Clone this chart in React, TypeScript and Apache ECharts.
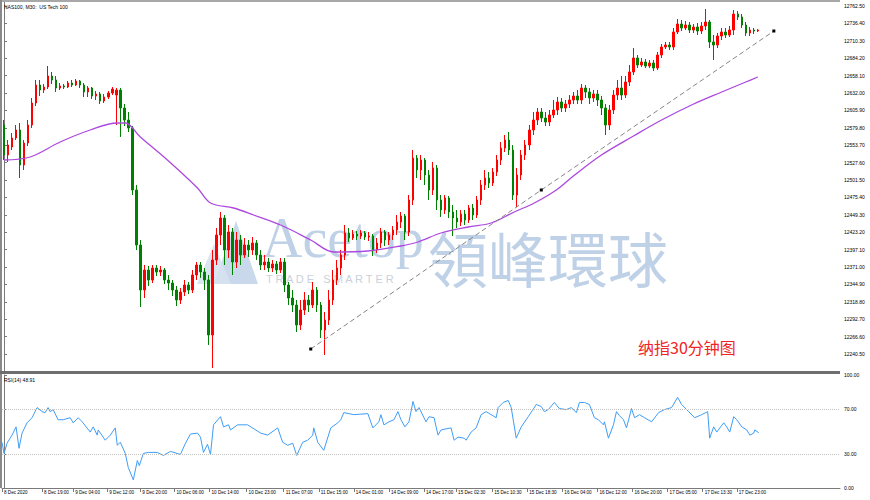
import React, { useEffect, useRef } from "react";
import * as echarts from "echarts";

// ---- Candles (one candle per slot) ----
const candleOpen = [
  12584, 12539, 12551, 12564.5, 12576.5, 12524, 12557, 12584, 12617, 12644,
  12636.5, 12641, 12657.5, 12651.5, 12639.5, 12642.5, 12641, 12647, 12644, 12650,
  12644, 12633.5, 12639.5, 12627.5, 12630.5, 12620, 12626, 12632, 12629, 12636.5,
  12609.5, 12591.5, 12579.5, 12486.5, 12404, 12336.5, 12366.5, 12351.5, 12369.5, 12363.5,
  12366.5, 12351.5, 12347, 12336.5, 12321.5, 12333.5, 12344, 12336.5, 12359, 12374,
  12363.5, 12351.5, 12269, 12381.5, 12419, 12444.5, 12396.5, 12423.5, 12378.5, 12411.5,
  12389, 12404, 12396.5, 12407, 12389, 12374, 12378.5, 12369.5, 12375.5, 12366.5,
  12378.5, 12344, 12324.5, 12314, 12284, 12306.5, 12321.5, 12314, 12336.5, 12314,
  12276.5, 12291.5, 12321.5, 12351.5, 12369.5, 12389, 12422, 12414.5, 12420.5, 12417.5,
  12422, 12416, 12417.5, 12396.5, 12407, 12423.5, 12411.5, 12419, 12426.5, 12438.5,
  12447.5, 12423.5, 12471.5, 12534.5, 12516.5, 12531.5, 12509, 12486.5, 12519.5, 12471.5,
  12456.5, 12474.5, 12453.5, 12444.5, 12438.5, 12450.5, 12441.5, 12459.5, 12449, 12471.5,
  12494, 12504.5, 12497, 12513.5, 12531.5, 12549.5, 12561.5, 12546.5, 12479, 12509,
  12539, 12554, 12576.5, 12591.5, 12603.5, 12594.5, 12588.5, 12599, 12606.5, 12618.5,
  12609.5, 12615.5, 12621.5, 12627.5, 12621.5, 12639.5, 12633.5, 12624.5, 12630.5, 12621.5,
  12609.5, 12584, 12606.5, 12629, 12639.5, 12629, 12648.5, 12663.5, 12684.5, 12674,
  12678.5, 12672.5, 12677, 12669.5, 12689, 12701, 12704, 12701, 12723.5, 12735.5,
  12729.5, 12734, 12726.5, 12731, 12725, 12732.5, 12738.5, 12708.5, 12704, 12717.5,
  12723.5, 12719, 12726.5, 12750.5, 12746, 12734, 12722, 12726.5, 12725,
];
const candleClose = [
  12539, 12554, 12564.5, 12576.5, 12524, 12557, 12584, 12617, 12644, 12636.5,
  12641, 12657.5, 12651.5, 12639.5, 12642.5, 12641, 12647, 12644, 12650, 12644,
  12633.5, 12639.5, 12627.5, 12630.5, 12620, 12626, 12632, 12638, 12636.5, 12609.5,
  12591.5, 12579.5, 12486.5, 12404, 12336.5, 12366.5, 12351.5, 12369.5, 12363.5, 12366.5,
  12351.5, 12347, 12336.5, 12321.5, 12333.5, 12344, 12336.5, 12359, 12374, 12363.5,
  12351.5, 12269, 12381.5, 12419, 12444.5, 12396.5, 12423.5, 12378.5, 12411.5, 12389,
  12404, 12396.5, 12407, 12389, 12374, 12378.5, 12369.5, 12375.5, 12366.5, 12378.5,
  12344, 12324.5, 12314, 12284, 12306.5, 12321.5, 12314, 12336.5, 12314, 12276.5,
  12291.5, 12321.5, 12351.5, 12369.5, 12389, 12422, 12414.5, 12420.5, 12417.5, 12422,
  12416, 12417.5, 12396.5, 12407, 12423.5, 12411.5, 12419, 12426.5, 12438.5, 12447.5,
  12423.5, 12471.5, 12534.5, 12516.5, 12531.5, 12509, 12486.5, 12519.5, 12471.5, 12456.5,
  12474.5, 12453.5, 12444.5, 12438.5, 12450.5, 12441.5, 12459.5, 12449, 12471.5, 12494,
  12504.5, 12497, 12513.5, 12531.5, 12549.5, 12561.5, 12546.5, 12479, 12509, 12539,
  12554, 12576.5, 12591.5, 12603.5, 12594.5, 12588.5, 12599, 12606.5, 12618.5, 12609.5,
  12615.5, 12621.5, 12627.5, 12621.5, 12639.5, 12633.5, 12624.5, 12630.5, 12621.5, 12609.5,
  12584, 12606.5, 12629, 12639.5, 12629, 12648.5, 12663.5, 12684.5, 12674, 12678.5,
  12672.5, 12677, 12669.5, 12689, 12701, 12704, 12701, 12723.5, 12735.5, 12729.5,
  12734, 12726.5, 12731, 12725, 12732.5, 12738.5, 12708.5, 12704, 12717.5, 12723.5,
  12719, 12726.5, 12750.5, 12746, 12734, 12722, 12726.5, 12725, 12726.5,
];
const candleLow = [
  12531.5, 12528.5, 12546.5, 12561.5, 12504.5, 12516.5, 12552.5, 12579.5, 12612.5, 12627.5,
  12632, 12638, 12645.5, 12633.5, 12636.5, 12638, 12639.5, 12641, 12642.5, 12639.5,
  12626, 12626, 12623, 12621.5, 12615.5, 12617, 12623, 12629, 12584, 12566,
  12582.5, 12573.5, 12479, 12396.5, 12311, 12324.5, 12342.5, 12347, 12357.5, 12357.5,
  12345.5, 12336.5, 12327.5, 12312.5, 12315.5, 12327.5, 12330.5, 12332, 12351.5, 12354.5,
  12336.5, 12254, 12219.5, 12374, 12404, 12374, 12384.5, 12359, 12369.5, 12374,
  12384.5, 12386, 12389, 12381.5, 12366.5, 12366.5, 12363.5, 12363.5, 12360.5, 12362,
  12333.5, 12314, 12303.5, 12273.5, 12276.5, 12299, 12303.5, 12309.5, 12303.5, 12264.5,
  12239, 12284, 12314, 12344, 12359, 12381.5, 12408.5, 12411.5, 12411.5, 12413,
  12411.5, 12410, 12387.5, 12392, 12399.5, 12402.5, 12404, 12411.5, 12419, 12429.5,
  12411.5, 12417.5, 12464, 12504.5, 12501.5, 12494, 12471.5, 12479, 12456.5, 12446,
  12450.5, 12444.5, 12417.5, 12429.5, 12432.5, 12434, 12437, 12441.5, 12444.5, 12464,
  12486.5, 12489.5, 12492.5, 12507.5, 12524, 12543.5, 12539, 12471.5, 12461, 12501.5,
  12531.5, 12546.5, 12569, 12584, 12588.5, 12582.5, 12582.5, 12594.5, 12599, 12603.5,
  12603.5, 12609.5, 12615.5, 12615.5, 12615.5, 12624.5, 12615.5, 12618.5, 12612.5, 12599,
  12569, 12576.5, 12600.5, 12621.5, 12621.5, 12624.5, 12642.5, 12659, 12669.5, 12671,
  12669.5, 12669.5, 12665, 12666.5, 12684.5, 12698, 12696.5, 12696.5, 12720.5, 12725,
  12726.5, 12722, 12722, 12719, 12720.5, 12726.5, 12699.5, 12681.5, 12699.5, 12711.5,
  12714.5, 12716, 12719, 12741.5, 12729.5, 12717.5, 12717.5, 12720.5, 12723.5,
];
const candleHigh = [
  12591.5, 12561.5, 12572, 12584, 12587, 12561.5, 12591.5, 12624.5, 12651.5, 12651.5,
  12645.5, 12672.5, 12663.5, 12657.5, 12647, 12645.5, 12650, 12651.5, 12653, 12651.5,
  12647, 12642.5, 12641, 12635, 12633.5, 12630.5, 12635, 12641, 12639.5, 12639.5,
  12615.5, 12603.5, 12582.5, 12494, 12411.5, 12374, 12372.5, 12374, 12374, 12372.5,
  12369.5, 12359, 12351.5, 12342.5, 12339.5, 12351.5, 12348.5, 12366.5, 12378.5, 12378.5,
  12369.5, 12359, 12396.5, 12429.5, 12453.5, 12449, 12434, 12429.5, 12423.5, 12419,
  12414.5, 12411.5, 12416, 12411.5, 12396.5, 12389, 12384.5, 12381.5, 12380, 12384.5,
  12384.5, 12348.5, 12336.5, 12321.5, 12321.5, 12333.5, 12329, 12348.5, 12341, 12318.5,
  12303.5, 12336.5, 12366.5, 12381.5, 12396.5, 12434, 12429.5, 12426.5, 12425, 12426.5,
  12425, 12423.5, 12420.5, 12414.5, 12429.5, 12426.5, 12423.5, 12432.5, 12449, 12453.5,
  12450.5, 12479, 12546.5, 12539, 12539, 12534.5, 12516.5, 12528.5, 12524, 12479,
  12479, 12477.5, 12464, 12456.5, 12456.5, 12456.5, 12464, 12465.5, 12477.5, 12501.5,
  12516.5, 12513.5, 12519.5, 12539, 12558.5, 12569, 12573.5, 12554, 12519.5, 12546.5,
  12561.5, 12584, 12603.5, 12609.5, 12609.5, 12603.5, 12606.5, 12621.5, 12626, 12624.5,
  12621.5, 12629, 12633.5, 12636.5, 12645.5, 12644, 12639.5, 12636.5, 12636.5, 12627.5,
  12615.5, 12614, 12636.5, 12651.5, 12657.5, 12657.5, 12674, 12699.5, 12689, 12684.5,
  12683, 12681.5, 12681.5, 12693.5, 12705.5, 12708.5, 12708.5, 12729.5, 12743, 12741.5,
  12740, 12738.5, 12735.5, 12737, 12738.5, 12758, 12741.5, 12719, 12722, 12729.5,
  12729.5, 12732.5, 12756.5, 12755, 12750.5, 12738.5, 12731, 12729.5, 12728,
];

// ---- Moving average (sampled along the curve: bar index, price) ----
const maIdx = [0, 6.5, 14, 21.5, 28.25, 30.25, 34, 40.75, 48.25, 51.5, 57.25, 62.25, 69, 76.5, 82.25, 90.75, 99, 103.25, 109, 115.75, 121.5, 127.25, 132.25, 137.75, 142, 149, 157, 164, 172, 179, 185, 188];
const maVal = [12531.5, 12536, 12558.5, 12576.5, 12587, 12587, 12566, 12531.5, 12489.5, 12467, 12459.5, 12449, 12434, 12411.5, 12393.5, 12395, 12402.5, 12408.5, 12422, 12431, 12437, 12453.5, 12467, 12486.5, 12507.5, 12539, 12567.5, 12591.5, 12615.5, 12633.5, 12648.5, 12656];

// ---- Trend line (bar index, price) ----
const trendIdx = [76.5, 134, 192];
const trendVal = [12248, 12486.5, 12725];

// ---- RSI(14) (bar index, value) ----
const rsiIdx = [-0.5, 0, 0.75, 2, 3, 3.75, 4.5, 5.75, 7, 8.25, 9.5, 10.25, 11, 11.5, 12.25, 13.5, 14.75, 16.5, 17.25, 18.5, 19.5, 21.5, 22.25, 23.25, 23.5, 25.25, 26.5, 27.75, 28.25, 29, 30.25, 31, 32.25, 33.25, 33.75, 34.75, 36, 38.25, 39.75, 41.5, 44, 45.25, 46.5, 48.25, 49, 49.75, 50.75, 51.5, 52.25, 54, 54.75, 56, 56.5, 58.25, 60.75, 64, 65.75, 68.25, 69.5, 70.75, 72, 73, 74.5, 75.75, 77, 77.25, 78.25, 79.75, 81.5, 83.25, 84, 84.75, 87.25, 90.75, 92, 93.5, 94, 94.75, 96, 97.25, 98.25, 99, 100, 101, 102, 102.75, 103.5, 105.25, 106, 107.25, 108.25, 109, 111.5, 112.25, 113.25, 114.75, 115.25, 116.5, 117.75, 119, 120.25, 122.75, 123.25, 124.5, 125.75, 126.5, 127.75, 129, 130.75, 132.75, 134, 134.75, 135.75, 137.25, 138.5, 140.25, 141.5, 142.75, 143.5, 144.75, 146, 147.25, 148.25, 149.5, 149.75, 150.75, 152, 152.75, 153.5, 154.5, 155.25, 156.5, 157.25, 158.5, 159.75, 161.5, 163.25, 164.75, 166.5, 168, 169, 170.75, 172.25, 174, 175.5, 176, 177, 177.75, 179.5, 180.25, 181, 182, 182.75, 184, 185.25, 186, 187, 187.25, 188.25];
const rsiVal = [40.5, 30.6, 39.6, 46.8, 54.1, 35.1, 48.6, 57.7, 62.2, 71.2, 67.6, 66.7, 71.2, 67.6, 69.4, 60.4, 60.4, 62.2, 57.7, 62.2, 58.6, 49.5, 54.1, 46.8, 51.4, 42.3, 46.8, 53.2, 37.8, 40.5, 30.6, 18.0, 7.2, 24.3, 19.8, 30.6, 31.5, 31.5, 28.8, 32.4, 29.7, 39.6, 47.7, 48.6, 45.0, 31.5, 38.7, 29.7, 55.9, 63.1, 54.1, 55.9, 51.4, 55.9, 55.9, 48.6, 46.8, 53.2, 40.5, 37.8, 39.6, 28.8, 40.5, 42.3, 46.8, 53.2, 40.5, 33.3, 53.2, 57.7, 60.4, 66.7, 64.9, 65.8, 53.2, 58.6, 64.9, 55.9, 58.6, 60.4, 67.6, 60.4, 54.1, 58.6, 76.6, 67.6, 71.2, 58.6, 63.1, 62.2, 46.8, 51.4, 53.2, 42.3, 45.0, 44.1, 42.3, 49.5, 53.2, 64.9, 67.6, 62.2, 71.2, 75.7, 77.5, 71.2, 44.1, 54.1, 63.1, 73.9, 72.1, 67.6, 69.4, 75.7, 70.3, 69.4, 71.2, 66.7, 75.7, 75.7, 73.9, 62.2, 60.4, 55.9, 58.6, 44.1, 55.9, 67.6, 64.0, 60.4, 53.2, 70.3, 62.2, 64.9, 62.2, 58.6, 66.7, 69.4, 71.2, 80.2, 73.9, 67.6, 62.2, 64.9, 67.6, 44.1, 54.1, 49.5, 57.7, 54.1, 49.5, 63.1, 60.4, 54.1, 51.4, 46.8, 48.6, 51.4, 48.9];

// ---- Axis ticks / labels ----
const priceTicks = [12240.5, 12266.6, 12292.7, 12318.8, 12344.9, 12371.0, 12397.1, 12423.2, 12449.3, 12475.4, 12501.5, 12527.6, 12553.7, 12579.8, 12605.9, 12632.0, 12658.1, 12684.2, 12710.3, 12736.4, 12762.5];
const rsiTicks = [0, 30, 70, 100];
const rsiLevels = [30, 70];
const xLabelPos = [-0.5, 9.5, 17.25, 25.75, 34, 42.5, 51.25, 60.5, 69.75, 78.5, 87.25, 96, 104.75, 112.75, 121.75, 130.5, 139.25, 148, 156.75, 165.5, 174.25, 182.75];
const xLabelText = ["8 Dec 2020", "8 Dec 19:00", "9 Dec 04:00", "9 Dec 12:00", "9 Dec 20:00", "10 Dec 06:00", "10 Dec 14:00", "10 Dec 23:00", "11 Dec 07:00", "11 Dec 15:00", "14 Dec 01:00", "14 Dec 09:00", "14 Dec 17:00", "15 Dec 02:30", "15 Dec 10:30", "15 Dec 18:30", "16 Dec 04:00", "16 Dec 12:00", "16 Dec 20:00", "17 Dec 05:00", "17 Dec 13:30", "17 Dec 23:00"];
const SLOTS = 209;

const SMALL_FONT = "Liberation Sans";

export default function App() {
  const ref = useRef<HTMLDivElement>(null);

  useEffect(() => {
    if (!ref.current) return;
    const chart = echarts.init(ref.current, null, { renderer: "svg" });

    const candles = candleOpen.map((o, i) => [o, candleClose[i], candleLow[i], candleHigh[i]]);
    const slotNames = Array.from({ length: SLOTS }, (_, i) => String(i));
    const maData = maIdx.map((x, i) => [x, maVal[i]]);
    const trendData = trendIdx.map((x, i) => [x, trendVal[i]]);
    const n = Math.min(rsiIdx.length, rsiVal.length);
    const rsiData = rsiIdx.slice(0, n).map((x, i) => [x, rsiVal[i]]);
    const labelMap = new Map<number, string>();
    xLabelPos.forEach((p, i) => labelMap.set(p, xLabelText[i]));

    const wm = "#bfd1e7";

    const option: any = {
      animation: false,
      backgroundColor: "#ffffff",
      grid: [
        { left: 2, top: 2, width: 838, height: 369 },
        { left: 2, top: 375, width: 838, height: 113 },
      ],
      xAxis: [
        {
          type: "category",
          gridIndex: 0,
          data: slotNames,
          boundaryGap: true,
          show: false,
        },
        {
          type: "value",
          gridIndex: 0,
          min: -0.5,
          max: SLOTS - 0.5,
          show: false,
        },
        {
          type: "value",
          gridIndex: 1,
          min: -0.5,
          max: SLOTS - 0.5,
          position: "bottom",
          axisLine: { show: true, lineStyle: { color: "#7a7a7a", width: 1 } },
          axisTick: {
            show: true,
            customValues: xLabelPos,
            length: 4,
            lineStyle: { color: "#7a7a7a" },
          },
          axisLabel: {
            show: true,
            customValues: xLabelPos,
            formatter: (v: number) => labelMap.get(v) ?? "",
            align: "left",
            margin: 2,
            padding: [0, 0, 0, 2],
            fontSize: 4.6,
            fontFamily: SMALL_FONT,
            color: "#000",
          },
          splitLine: { show: false },
        },
      ],
      yAxis: [
        {
          type: "value",
          gridIndex: 0,
          position: "right",
          min: 12215,
          max: 12768.5,
          axisLine: { show: true, lineStyle: { color: "#7a7a7a", width: 1 } },
          axisTick: {
            show: true,
            customValues: priceTicks,
            length: 3,
            lineStyle: { color: "#7a7a7a" },
          },
          axisLabel: {
            show: true,
            customValues: priceTicks,
            formatter: (v: number) => v.toFixed(2),
            margin: 4,
            fontSize: 5,
            fontFamily: SMALL_FONT,
            color: "#000",
          },
          splitLine: { show: false },
        },
        {
          type: "value",
          gridIndex: 1,
          position: "right",
          min: 0,
          max: 100,
          axisLine: { show: true, lineStyle: { color: "#7a7a7a", width: 1 } },
          axisTick: {
            show: true,
            customValues: rsiTicks,
            length: 3,
            lineStyle: { color: "#7a7a7a" },
          },
          axisLabel: {
            show: true,
            customValues: rsiTicks,
            formatter: (v: number) => v.toFixed(2),
            margin: 4,
            fontSize: 5,
            fontFamily: SMALL_FONT,
            color: "#000",
          },
          splitLine: { show: false },
        },
      ],
      series: [
        {
          type: "candlestick",
          xAxisIndex: 0,
          yAxisIndex: 0,
          data: candles,
          barWidth: 2,
          itemStyle: {
            color: "#ff0000",
            color0: "#008000",
            borderColor: "#ff0000",
            borderColor0: "#008000",
            borderWidth: 1,
          },
          z: 3,
        },
        {
          type: "line",
          xAxisIndex: 1,
          yAxisIndex: 0,
          data: maData,
          showSymbol: false,
          smooth: 0.35,
          lineStyle: { color: "#ad48de", width: 1.3 },
          z: 4,
        },
        {
          type: "line",
          xAxisIndex: 1,
          yAxisIndex: 0,
          data: trendData,
          symbol: "rect",
          symbolSize: 3,
          showSymbol: true,
          itemStyle: { color: "#000" },
          lineStyle: { color: "#858585", width: 1, type: [5, 3] },
          z: 5,
        },
        {
          type: "line",
          xAxisIndex: 2,
          yAxisIndex: 1,
          data: rsiData,
          showSymbol: false,
          lineStyle: { color: "#3f9df6", width: 1 },
          markLine: {
            silent: true,
            symbol: "none",
            label: { show: false },
            lineStyle: { color: "#c4c4c4", type: "dotted", width: 1 },
            data: rsiLevels.map((v) => ({ yAxis: v })),
          },
        },
      ],
      graphic: [
        // watermark logo
        {
          type: "polygon",
          z: 0,
          shape: { points: [[214, 284], [236, 221], [258, 284]] },
          style: { fill: wm, opacity: 0.85 },
        },
        {
          type: "polygon",
          z: 0,
          shape: { points: [[197, 284], [214, 244], [231, 284]] },
          style: { fill: "#d6e2ef", opacity: 0.9 },
        },
        {
          type: "text",
          z: 0,
          x: 262,
          y: 238,
          style: {
            text: "Acetop",
            fontSize: 56,
            fontFamily: "Liberation Serif",
            fill: wm,
            verticalAlign: "middle",
          },
        },
        {
          type: "text",
          z: 0,
          x: 266,
          y: 279,
          style: {
            text: "T R A D E   S M A R T E R",
            fontSize: 11,
            fontFamily: "Liberation Sans",
            fill: "#c9d1db",
            verticalAlign: "middle",
          },
        },
        {
          type: "text",
          z: 0,
          x: 428,
          y: 256,
          style: {
            text: "領峰環球",
            fontSize: 60,
            fontFamily: "Noto Sans CJK TC",
            fill: wm,
            verticalAlign: "middle",
          },
        },
        // frame
        { type: "rect", z: 50, shape: { x: 0, y: 0, width: 840, height: 2 }, style: { fill: "#a8a8a8" } },
        { type: "rect", z: 50, shape: { x: 0, y: 0, width: 2, height: 488 }, style: { fill: "#8a8a8a" } },
        { type: "rect", z: 50, shape: { x: 0, y: 371, width: 840, height: 3 }, style: { fill: "#6e6e6e" } },
        // titles
        {
          type: "text",
          z: 60,
          x: 4,
          y: 4,
          style: { text: "NAS100, M30:  US Tech 100", fontSize: 5, fontFamily: SMALL_FONT, fill: "#000" },
        },
        {
          type: "text",
          z: 60,
          x: 4,
          y: 377,
          style: { text: "RSI(14) 48.91", fontSize: 5, fontFamily: SMALL_FONT, fill: "#000" },
        },
        {
          type: "text",
          z: 60,
          x: 638,
          y: 347,
          style: {
            text: "纳指30分钟图",
            fontSize: 16,
            fontFamily: "Noto Sans CJK SC",
            fill: "#f02424",
            verticalAlign: "middle",
          },
        },
      ],
    };

    chart.setOption(option);
    return () => chart.dispose();
  }, []);

  return (
    <div
      ref={ref}
      style={{ position: "absolute", left: 0, top: 0, width: 870, height: 500, background: "#fff" }}
    />
  );
}
